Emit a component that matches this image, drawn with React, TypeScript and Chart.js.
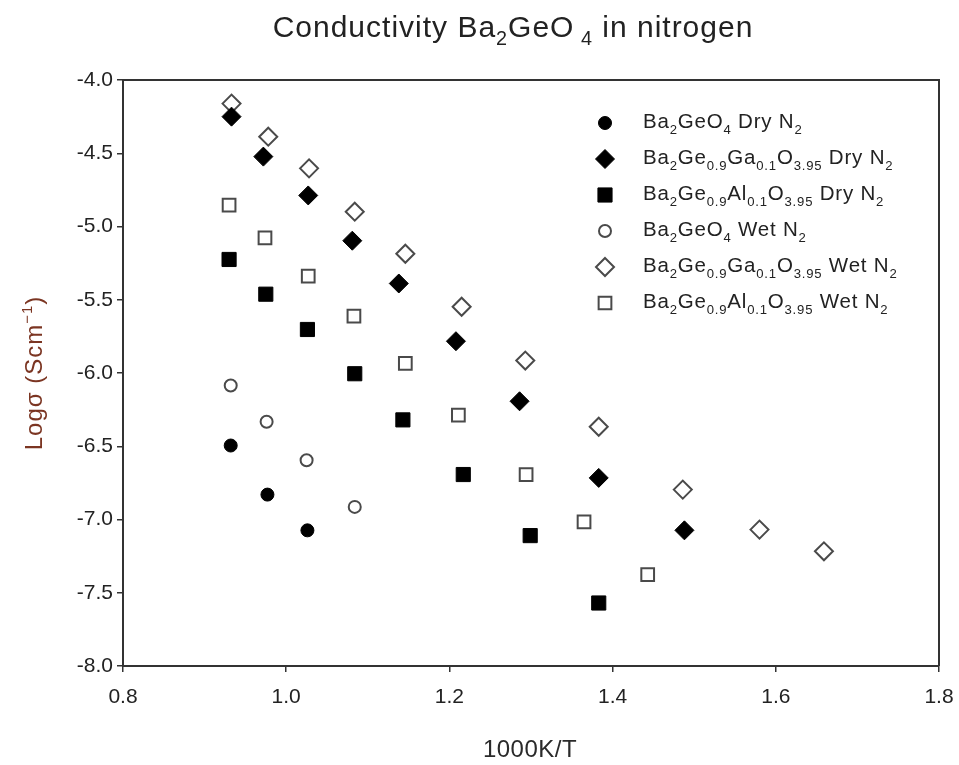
import React, { useEffect, useRef } from "react";
import { Chart, registerables } from "chart.js";

Chart.register(...registerables);

// ---------- data ----------
const xTicks = [0.8, 1.0, 1.2, 1.4, 1.6, 1.8];
const yTicks = [-8.0, -7.5, -7.0, -6.5, -6.0, -5.5, -5.0, -4.5, -4.0];

const geo4DryX = [0.932, 0.977, 1.026];
const geo4DryY = [-6.495, -6.83, -7.074];

const gaDryX = [0.933, 0.972, 1.027, 1.081, 1.138, 1.208, 1.286, 1.383, 1.488];
const gaDryY = [-4.25, -4.523, -4.788, -5.097, -5.389, -5.783, -6.193, -6.716, -7.074];

const alDryX = [0.93, 0.975, 1.026, 1.084, 1.143, 1.217, 1.299, 1.383];
const alDryY = [-5.225, -5.462, -5.703, -6.005, -6.32, -6.693, -7.11, -7.57];

const geo4WetX = [0.932, 0.976, 1.025, 1.084];
const geo4WetY = [-6.085, -6.333, -6.596, -6.914];

const gaWetX = [0.933, 0.978, 1.028, 1.084, 1.146, 1.215, 1.293, 1.383, 1.486, 1.58, 1.659];
const gaWetY = [-4.161, -4.387, -4.603, -4.899, -5.186, -5.548, -5.915, -6.367, -6.796, -7.069, -7.217];

const alWetX = [0.93, 0.974, 1.027, 1.083, 1.146, 1.211, 1.294, 1.365, 1.443];
const alWetY = [-4.854, -5.077, -5.339, -5.612, -5.935, -6.288, -6.693, -7.016, -7.376];

const seriesLabels = [
  "Ba_{2}GeO_{4} Dry N_{2}",
  "Ba_{2}Ge_{0.9}Ga_{0.1}O_{3.95} Dry N_{2}",
  "Ba_{2}Ge_{0.9}Al_{0.1}O_{3.95} Dry N_{2}",
  "Ba_{2}GeO_{4} Wet N_{2}",
  "Ba_{2}Ge_{0.9}Ga_{0.1}O_{3.95} Wet N_{2}",
  "Ba_{2}Ge_{0.9}Al_{0.1}O_{3.95} Wet N_{2}",
];

const titleText = "Conductivity Ba_{2}GeO_{ 4} in nitrogen";
const xAxisTitle = "1000K/T";
const yAxisTitle = "Logσ (Scm^{−1})";

// ---------- styles ----------
const FONT = "'Liberation Sans', Arial, Helvetica, sans-serif";
const OPEN_EDGE = "#4a4a4a";

type Marker = { shape: "circle" | "diamond" | "square"; filled: boolean; r: number };
const markers: Marker[] = [
  { shape: "circle", filled: true, r: 6.5 },
  { shape: "diamond", filled: true, r: 9.5 },
  { shape: "square", filled: true, r: 10 },
  { shape: "circle", filled: false, r: 6 },
  { shape: "diamond", filled: false, r: 9 },
  { shape: "square", filled: false, r: 9 },
];

type Seg = { t: string; k: "n" | "sub" | "sup" };
function parseRich(s: string): Seg[] {
  const segs: Seg[] = [];
  const re = /([_^])\{([^}]*)\}/g;
  let last = 0;
  let m: RegExpExecArray | null;
  while ((m = re.exec(s))) {
    if (m.index > last) segs.push({ t: s.slice(last, m.index), k: "n" });
    segs.push({ t: m[2], k: m[1] === "_" ? "sub" : "sup" });
    last = re.lastIndex;
  }
  if (last < s.length) segs.push({ t: s.slice(last), k: "n" });
  return segs;
}

function drawRich(
  ctx: CanvasRenderingContext2D,
  s: string,
  x: number,
  y: number,
  size: number,
  color: string,
  align: "left" | "center",
  smallRatio = 0.62,
  spacing = 0
) {
  const segs = parseRich(s);
  const small = size * smallRatio;
  const c: any = ctx;
  c.letterSpacing = `${spacing}px`;
  const widths = segs.map((seg) => {
    ctx.font = `${seg.k === "n" ? size : small}px ${FONT}`;
    return ctx.measureText(seg.t).width;
  });
  const total = widths.reduce((a, b) => a + b, 0);
  let cx = align === "center" ? x - total / 2 : x;
  ctx.fillStyle = color;
  ctx.textBaseline = "alphabetic";
  ctx.textAlign = "left";
  segs.forEach((seg, i) => {
    ctx.font = `${seg.k === "n" ? size : small}px ${FONT}`;
    const dy = seg.k === "sub" ? size * 0.28 : seg.k === "sup" ? -size * 0.42 : 0;
    ctx.fillText(seg.t, cx, y + dy);
    cx += widths[i];
  });
  c.letterSpacing = "0px";
}

function drawMarker(ctx: CanvasRenderingContext2D, m: Marker, x: number, y: number) {
  ctx.beginPath();
  if (m.shape === "circle") {
    ctx.arc(x, y, m.r, 0, Math.PI * 2);
  } else if (m.shape === "diamond") {
    ctx.moveTo(x, y - m.r);
    ctx.lineTo(x + m.r, y);
    ctx.lineTo(x, y + m.r);
    ctx.lineTo(x - m.r, y);
    ctx.closePath();
  } else {
    const h = m.r * Math.SQRT1_2;
    ctx.rect(x - h, y - h, 2 * h, 2 * h);
  }
  ctx.fillStyle = m.filled ? "#000" : "#fff";
  ctx.fill();
  ctx.lineWidth = m.filled ? 1 : 2;
  ctx.strokeStyle = m.filled ? "#000" : OPEN_EDGE;
  ctx.stroke();
}

const decorPlugin = {
  id: "decor",
  afterDraw(chart: any) {
    const ctx: CanvasRenderingContext2D = chart.ctx;
    const a = chart.chartArea;
    ctx.save();
    // frame top and right
    ctx.strokeStyle = "#333";
    ctx.lineWidth = 2;
    ctx.beginPath();
    ctx.moveTo(a.left, a.top);
    ctx.lineTo(a.right, a.top);
    ctx.lineTo(a.right, a.bottom);
    ctx.stroke();

    // title
    drawRich(ctx, titleText, 513, 37, 30, "#222", "center", 0.66, 1);
    // x axis title
    drawRich(ctx, xAxisTitle, 530, 757, 24, "#2a2a2a", "center", 0.62, 0.5);
    // y axis title
    ctx.save();
    ctx.translate(42, (a.top + a.bottom) / 2);
    ctx.rotate(-Math.PI / 2);
    drawRich(ctx, yAxisTitle, 0, 0, 24, "#7b3522", "center", 0.62, 1);
    ctx.restore();

    // legend
    const lx = 605;
    const tx = 643;
    seriesLabels.forEach((lab, i) => {
      const base = 128 + i * 36;
      drawMarker(ctx, markers[i], lx, base - 5);
      drawRich(ctx, lab, tx, base, 20.5, "#222", "left", 0.64, 0.8);
    });
    ctx.restore();
  },
};

function toPoints(xs: number[], ys: number[]) {
  return xs.map((x, i) => ({ x, y: ys[i] }));
}

function ds(label: string, xs: number[], ys: number[], m: Marker) {
  return {
    label,
    data: toPoints(xs, ys),
    showLine: false,
    pointStyle: m.shape === "circle" ? "circle" : m.shape === "diamond" ? "rectRot" : "rect",
    pointRadius: m.r,
    pointHoverRadius: m.r,
    pointBackgroundColor: m.filled ? "#000" : "#fff",
    pointBorderColor: m.filled ? "#000" : OPEN_EDGE,
    pointBorderWidth: m.filled ? 1 : 2,
    backgroundColor: m.filled ? "#000" : "#fff",
    borderColor: m.filled ? "#000" : OPEN_EDGE,
  };
}

export default function App() {
  const ref = useRef<HTMLCanvasElement | null>(null);
  useEffect(() => {
    if (!ref.current) return;
    const chart = new Chart(ref.current, {
      type: "scatter",
      data: {
        datasets: [
          ds("GeO4 Dry", geo4DryX, geo4DryY, markers[0]),
          ds("Ga Dry", gaDryX, gaDryY, markers[1]),
          ds("Al Dry", alDryX, alDryY, markers[2]),
          ds("GeO4 Wet", geo4WetX, geo4WetY, markers[3]),
          ds("Ga Wet", gaWetX, gaWetY, markers[4]),
          ds("Al Wet", alWetX, alWetY, markers[5]),
        ] as any,
      },
      options: {
        animation: false,
        responsive: false,
        maintainAspectRatio: false,
        events: [],
        layout: { padding: { left: 0, right: 20, top: 80, bottom: 0 } },
        plugins: {
          legend: { display: false },
          title: { display: false },
          tooltip: { enabled: false },
        },
        scales: {
          x: {
            type: "linear",
            min: 0.8,
            max: 1.8,
            afterBuildTicks: (s: any) => {
              s.ticks = xTicks.map((v) => ({ value: v }));
            },
            afterFit: (s: any) => {
              s.height = 99;
              s.paddingLeft = 0;
              s.paddingRight = 0;
            },
            ticks: {
              callback: (v: any) => Number(v).toFixed(1),
              font: { family: FONT, size: 21 },
              color: "#222",
              padding: 13,
              maxRotation: 0,
              autoSkip: false,
            },
            grid: {
              drawOnChartArea: false,
              drawTicks: true,
              tickLength: 6,
              color: "#333",
              lineWidth: 1.5,
            },
            border: { display: true, color: "#333", width: 2 },
          },
          y: {
            type: "linear",
            min: -8,
            max: -4,
            afterBuildTicks: (s: any) => {
              s.ticks = yTicks.map((v) => ({ value: v }));
            },
            afterFit: (s: any) => {
              s.width = 123;
              s.paddingTop = 0;
              s.paddingBottom = 0;
            },
            ticks: {
              callback: (v: any) => Number(v).toFixed(1),
              font: { family: FONT, size: 21 },
              color: "#222",
              padding: 4,
              autoSkip: false,
            },
            grid: {
              drawOnChartArea: false,
              drawTicks: true,
              tickLength: 6,
              color: "#333",
              lineWidth: 1.5,
            },
            border: { display: true, color: "#333", width: 2 },
          },
        },
      } as any,
      plugins: [decorPlugin],
    });
    return () => chart.destroy();
  }, []);

  return (
    <div style={{ position: "absolute", left: 0, top: 0, width: 959, height: 765, background: "#fff" }}>
      <canvas ref={ref} width={959} height={765} style={{ width: 959, height: 765, display: "block" }} />
    </div>
  );
}
